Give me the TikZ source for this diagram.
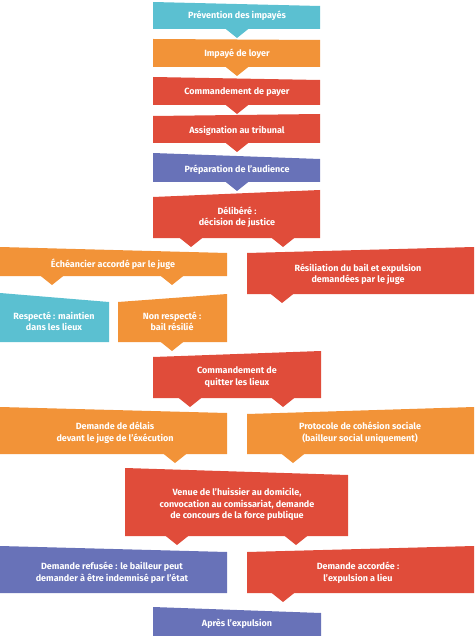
\documentclass[tikz,border=0pt]{standalone}
\usepackage{fontspec}
\setmainfont{Fira Sans}
\definecolor{cyanb}{HTML}{5BC0D1}
\definecolor{orangeb}{HTML}{F29338}
\definecolor{redb}{HTML}{E04C3A}
\definecolor{blueb}{HTML}{6872B8}
\newcommand\shp[6]{\fill[#1] (#2,#4) -- (#3,#5) -- (#3,#6) -- (#2,#6) -- cycle;}
\newcommand\ptr[3]{\fill[#1] ({#2-12.5},{#3-1}) -- ({#2+12.5},{#3-1}) -- (#2,{#3+9}) -- cycle;}
\tikzset{lbl/.style={text=white,font=\bfseries\fontsize{9}{11.5}\selectfont,align=center,inner sep=0pt}}
\begin{document}
\begin{tikzpicture}[x=1pt,y=-1pt]
\useasboundingbox (0,0) rectangle (474,636);
% 1
\shp{cyanb}{153}{320}{2}{6}{29}\ptr{cyanb}{237}{29}
\node[lbl] (prev) at (237,16) {Prévention des impayés};
% 2
\shp{orangeb}{153}{320}{39}{40}{67}\ptr{orangeb}{237}{67}
\node[lbl] (imp) at (237,54) {Impayé de loyer};
% 3
\shp{redb}{153}{320}{77}{80}{105}\ptr{redb}{237}{105}
\node[lbl] (cmdp) at (237,92) {Commandement de payer};
% 4
\shp{redb}{153}{320}{116}{114}{143}\ptr{redb}{237}{143}
\node[lbl] (assig) at (237,130.5) {Assignation au tribunal};
% 5
\shp{blueb}{153}{320}{153}{159}{182}\ptr{blueb}{237}{182}
\node[lbl] (prep) at (237,169.5) {Préparation de l’audience};
% 6
\shp{redb}{153}{320}{197}{190}{238}\ptr{redb}{191}{238}\ptr{redb}{283}{238}
\node[lbl] (delib) at (237,217) {Délibéré :\\décision de justice};
% 7
\shp{orangeb}{0}{227}{247}{253}{276}\ptr{orangeb}{52}{276}\ptr{orangeb}{172}{276}
\node[lbl] (ech) at (113,264) {Échéancier accordé par le juge};
% 8
\shp{redb}{247}{474}{253}{247}{294}\ptr{redb}{282}{294}
\node[lbl] (resil) at (358,274) {Résiliation du bail et expulsion\\demandées par le juge};
% 9
\shp{cyanb}{0}{109}{293}{302}{342}
\node[lbl] (resp) at (54,321.5) {Respecté : maintien\\dans les lieux};
% 10
\shp{orangeb}{118}{227}{302}{294}{342}\ptr{orangeb}{172}{342}
\node[lbl] (nonresp) at (172,321.5) {Non respecté :\\bail résilié};
% 11
\shp{redb}{153}{321}{357}{351}{398}\ptr{redb}{190}{398}\ptr{redb}{283}{398}
\node[lbl] (cmdq) at (237,377) {Commandement de\\quitter les lieux};
% 12
\shp{orangeb}{0}{227}{407}{413}{454}\ptr{orangeb}{175}{454}
\node[lbl] (delais) at (115,432.5) {Demande de délais\\devant le juge de l’éxécution};
% 13
\shp{orangeb}{247}{474}{414}{407}{454}\ptr{orangeb}{293}{454}
\node[lbl] (proto) at (360,432.5) {Protocole de cohésion sociale\\(bailleur social uniquement)};
% 14
\shp{redb}{125}{348}{468}{475}{536}\ptr{redb}{177}{536}\ptr{redb}{296}{536}
\node[lbl] (venue) at (237,504.5) {Venue de l’huissier au domicile,\\convocation au comissariat, demande\\de concours de la force publique};
% 15
\shp{blueb}{0}{227}{546}{552}{593}
\node[lbl] (refus) at (112,572.5) {Demande refusée : le bailleur peut\\demander à être indemnisé par l’état};
% 16
\shp{redb}{247}{474}{552}{546}{593}\ptr{redb}{283}{593}
\node[lbl] (accord) at (358,572.5) {Demande accordée :\\l’expulsion a lieu};
% 17
\shp{blueb}{153}{321}{607}{613}{636}
\node[lbl] (apres) at (237,623.5) {Après l’expulsion};
\end{tikzpicture}
\end{document}
